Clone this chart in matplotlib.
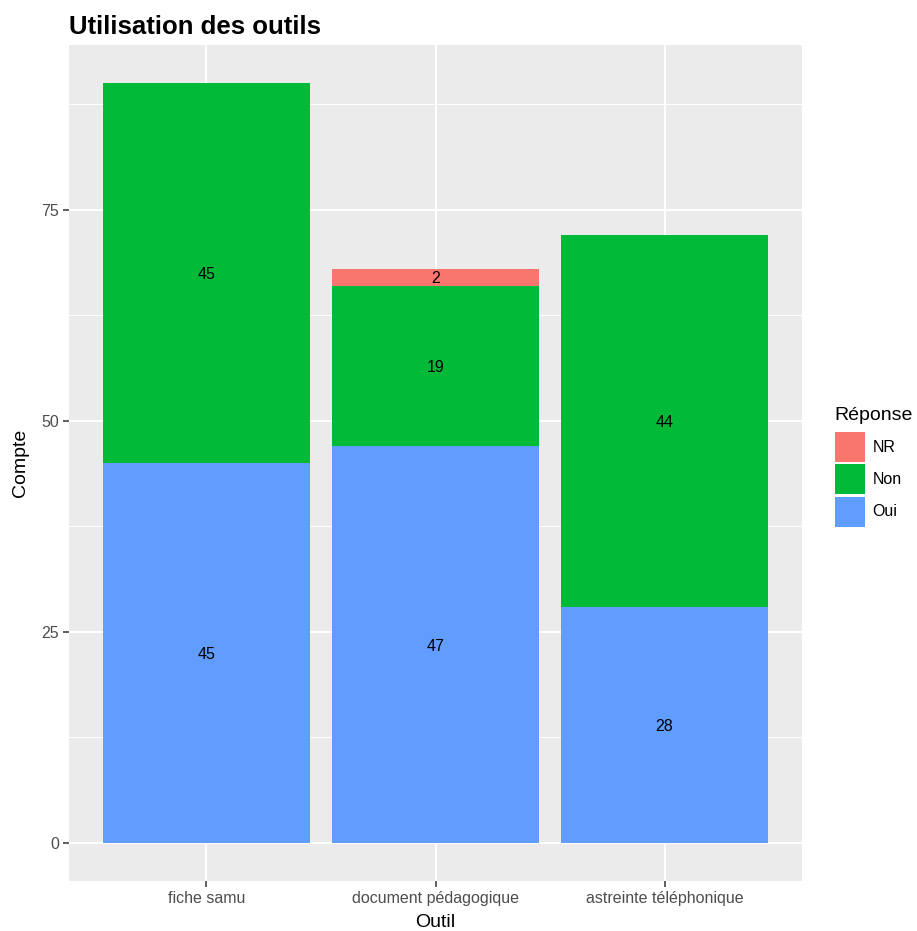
import matplotlib
matplotlib.use("Agg")
import matplotlib.pyplot as plt
from matplotlib.patches import Patch
import numpy as np

plt.rcParams['font.family'] = ['Liberation Sans', 'DejaVu Sans']

outils = ["fiche samu", "document pédagogique", "astreinte téléphonique"]
reponses = ["NR", "Non", "Oui"]
oui = [45, 47, 28]
non = [45, 19, 44]
nr = [0, 2, 0]
colors = {"NR": "#F8766D", "Non": "#00BA38", "Oui": "#619CFF"}

W, H = 917, 931
fig = plt.figure(figsize=(W / 100, H / 100), dpi=100)
ax = fig.add_axes([69 / W, (H - 881) / H, (802 - 69) / W, (881 - 45) / H])

ax.set_facecolor("#EBEBEB")
x = np.arange(1, len(outils) + 1)
width = 0.9

stack = [("Oui", oui), ("Non", non), ("NR", nr)]
bottom = np.zeros(len(outils))
for name, vals in stack:
    vals = np.array(vals, dtype=float)
    ax.bar(x, vals, width, bottom=bottom, color=colors[name], zorder=3)
    for xi, b, v in zip(x, bottom, vals):
        if v > 0:
            ax.text(xi, b + v / 2, f"{int(v)}", ha="center", va="center_baseline",
                    fontsize=11.5, color="black", zorder=4)
    bottom += vals

total = max(np.array(oui) + np.array(non) + np.array(nr))
ax.set_xlim(0.4, len(outils) + 0.6)
ax.set_ylim(-0.05 * total, total * 1.05)

ax.set_yticks([0, 25, 50, 75])
ax.set_yticks([12.5, 37.5, 62.5, 87.5], minor=True)
ax.set_xticks(x)
ax.set_xticklabels(outils)

ax.grid(which="major", color="white", linewidth=1.5, zorder=1)
ax.grid(which="minor", axis="y", color="white", linewidth=0.75, zorder=1)
ax.set_axisbelow(True)
for s in ax.spines.values():
    s.set_visible(False)
ax.tick_params(axis="both", which="major", length=4, width=1.1, color="#333333",
               labelsize=11.5, labelcolor="#4D4D4D", pad=3)
ax.tick_params(axis="both", which="minor", length=0)

ax.set_xlabel("Outil", fontsize=14, color="black", labelpad=6)
ax.set_ylabel("Compte", fontsize=14, color="black", labelpad=9)
ax.set_title("Utilisation des outils", fontsize=18.5, fontweight="bold",
             loc="left", pad=8)

handles = [Patch(facecolor=colors[r], edgecolor="none", label=r) for r in reponses]
leg = ax.legend(handles=handles, title="Réponse", loc="upper left",
                bbox_to_anchor=(830 / W, (H - 402) / H), bbox_transform=fig.transFigure,
                frameon=False, fontsize=11.5, title_fontsize=14,
                handlelength=1.87, handleheight=2.5, labelspacing=0.15,
                handletextpad=0.5, borderaxespad=0, borderpad=0.3)
leg._legend_box.align = "left"
leg._legend_box.sep = 6

fig.savefig("out.png", dpi=100)
